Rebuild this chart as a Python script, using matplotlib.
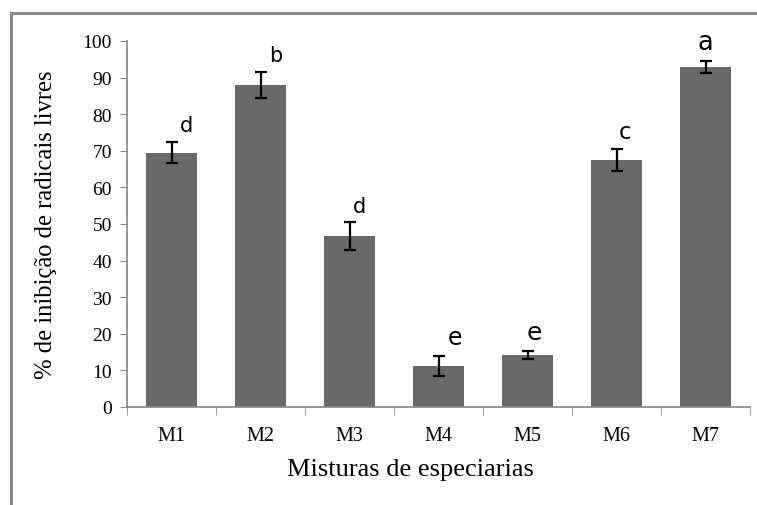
import numpy as np
import matplotlib.pyplot as plt
from matplotlib.lines import Line2D

# data
misturas = ['M1', 'M2', 'M3', 'M4', 'M5', 'M6', 'M7']
inibicao = [69.5, 88.0, 46.7, 11.2, 14.2, 67.5, 92.9]
erro = [2.9, 3.6, 3.8, 2.8, 1.1, 2.9, 1.6]
letras = ['d', 'b', 'd', 'e', 'e', 'c', 'a']

# layout of the letters (x shift in bar units, font size)
letra_dx = [0.17, 0.17, 0.11, 0.18, 0.07, 0.09, 0.0]
letra_size = [15, 15, 15, 17, 18, 16.5, 18.5]

fig = plt.figure(figsize=(7.57, 5.06), dpi=100)
ax = fig.add_axes([0.168, 0.194, 0.823, 0.723])

x = np.arange(len(misturas))
ax.bar(x, inibicao, width=0.58, color='#696969', zorder=2)
ax.errorbar(x, inibicao, yerr=erro, fmt='none', ecolor='black',
            elinewidth=1.6, capsize=4.3, capthick=1.6, zorder=3)

for i in range(len(misturas)):
    ax.text(x[i] + letra_dx[i], inibicao[i] + erro[i] + 1.8, letras[i],
            ha='center', va='bottom', fontsize=letra_size[i],
            family='DejaVu Sans', color='black')

ax.set_xlim(-0.5, len(misturas) - 0.5)
ax.set_ylim(0, 100)
ax.set_yticks(np.arange(0, 101, 10))
ax.set_xticks(x)
ax.set_xticklabels(misturas, family='Liberation Serif', fontsize=14.5)
ax.tick_params(axis='x', length=0, pad=14)
ax.set_xticks(np.arange(-0.5, len(misturas), 1), minor=True)
ax.tick_params(axis='x', which='minor', length=6, color='#868686', direction='out')
ax.tick_params(axis='y', length=5, color='#868686', direction='out',
               labelsize=14, pad=6)
for lab in ax.get_yticklabels():
    lab.set_family('Liberation Serif')

for s in ['top', 'right']:
    ax.spines[s].set_visible(False)
for s in ['left', 'bottom']:
    ax.spines[s].set_color('#868686')
    ax.spines[s].set_linewidth(1.2)

ax.set_xlabel('Misturas de especiarias', family='Liberation Serif', fontsize=19)
ax.set_ylabel('% de inibição de radicais livres', family='Liberation Serif',
              fontsize=17.7)
ax.xaxis.set_label_coords(0.454, -0.14)
ax.yaxis.set_label_coords(-0.112, 0.5)

# outer frame (left and top edges visible in the reference)
fig.add_artist(Line2D([0.0145, 0.0145], [0.0, 0.972], transform=fig.transFigure,
                      color='#8a8a8a', lw=2.2))
fig.add_artist(Line2D([0.0145, 1.0], [0.972, 0.972], transform=fig.transFigure,
                      color='#8a8a8a', lw=2.2))

fig.savefig('out.png', dpi=100)
